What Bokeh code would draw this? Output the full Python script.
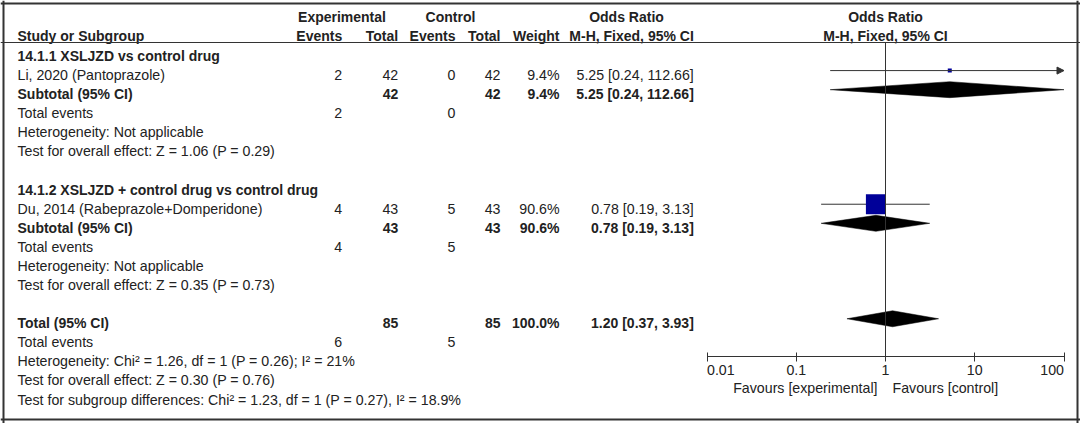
from bokeh.plotting import figure
from bokeh.models import Range1d, Span, LogAxis, FixedTicker, Arrow, NormalHead
from bokeh.core.properties import value
from bokeh.embed import file_html
from bokeh.resources import INLINE

# ---------------- data ----------------
subgroups = ["14.1.1 XSLJZD vs control drug", "14.1.2 XSLJZD + control drug vs control drug"]
studies = ["Li, 2020 (Pantoprazole)", "Du, 2014  (Rabeprazole+Domperidone)"]
exp_events = [2, 4]
exp_total = [42, 43]
ctrl_events = [0, 5]
ctrl_total = [42, 43]
weights = [9.4, 90.6]
odds_ratio = [5.25, 0.78]
ci_low = [0.24, 0.19]
ci_high = [112.66, 3.13]
sub_weights = [9.4, 90.6]
sub_or = [5.25, 0.78]
sub_low = [0.24, 0.19]
sub_high = [112.66, 3.13]
sub_heterogeneity = ["Heterogeneity: Not applicable", "Heterogeneity: Not applicable"]
sub_overall = ["Test for overall effect: Z = 1.06 (P = 0.29)",
               "Test for overall effect: Z = 0.35 (P = 0.73)"]
total_exp = 85
total_ctrl = 85
total_weight = 100.0
total_or = 1.20
total_low = 0.37
total_high = 3.93
total_exp_events = 6
total_ctrl_events = 5
total_heterogeneity = "Heterogeneity: Chi\u00b2 = 1.26, df = 1 (P = 0.26); I\u00b2 = 21%"
total_overall = "Test for overall effect: Z = 0.30 (P = 0.76)"
subgroup_diff = "Test for subgroup differences: Chi\u00b2 = 1.23, df = 1 (P = 0.27), I\u00b2 = 18.9%"
axis_ticks = [0.01, 0.1, 1, 10, 100]
axis_labels = ["0.01", "0.1", "1", "10", "100"]
favours = ["Favours [experimental]", "Favours [control]"]

# ---------------- layout constants ----------------
FONT = value("Liberation Sans")
FS = "14.2px"
FSB = "14px"
TC = "#222222"
LC = "#333333"
W, H = 1080, 423
ROW0 = 51.0     # page px of row-0 marks
ROWH = 19.09    # px per row
TSHIFT = 0.23   # text sits slightly below the mark centre (rows)
NULL_PX = 885.0  # page x of OR = 1
DEC = 89.25      # px per decade


def r(px):
    """page y (px) -> row coordinate"""
    return (px - ROW0) / ROWH


def xp(px):
    """page x (px) -> position on the log odds-ratio scale (used for table layout)"""
    return 10 ** ((px - NULL_PX) / DEC)


AX_MIN, AX_MAX = axis_ticks[0], axis_ticks[-1]

p = figure(width=W, height=H, x_axis_type="log",
           x_range=Range1d(xp(0), xp(W)), y_range=Range1d(start=r(H), end=r(0)),
           toolbar_location=None, output_backend="svg", min_border=0,
           x_axis_location=None, y_axis_location=None)
p.grid.visible = False
p.outline_line_color = None
p.background_fill_color = "white"
p.border_fill_color = "white"


def txt(xs_px, ys, texts, align="left", bold=False):
    p.text(x=[xp(v) for v in xs_px], y=[y + TSHIFT for y in ys], text=texts, text_font=FONT,
           text_font_size=FSB if bold else FS, text_color=TC, text_align=align,
           text_baseline="middle", text_font_style="bold" if bold else "normal")


# column anchors (page px)
X_LABEL = 17
X_EE, X_ET, X_CE, X_CT, X_W, X_OR = 341.7, 397.7, 455, 500, 559, 693.3

# ---------------- header ----------------
H1, H2 = r(16) - TSHIFT, r(35) - TSHIFT
txt([341.5, 450, 626, NULL_PX], [H1] * 4, ["Experimental", "Control", "Odds Ratio", "Odds Ratio"],
    align="center", bold=True)
txt([X_LABEL], [H2], ["Study or Subgroup"], bold=True)
txt([X_EE, X_ET, X_CE, X_CT, X_W, X_OR], [H2] * 6,
    ["Events", "Total", "Events", "Total", "Weight", "M-H, Fixed, 95% CI"], align="right", bold=True)
txt([NULL_PX], [H2], ["M-H, Fixed, 95% CI"], align="center", bold=True)


def ci_text(o, lo, hi):
    return f"{o:.2f} [{lo:.2f}, {hi:.2f}]"


HH = 8 / ROWH  # diamond half height (rows)

# ---------------- subgroups ----------------
for g in range(len(subgroups)):
    b = 7 * g
    txt([X_LABEL], [b], [subgroups[g]], bold=True)
    txt([X_LABEL], [b + 1], [studies[g]])
    txt([X_EE, X_ET, X_CE, X_CT, X_W, X_OR], [b + 1] * 6,
        [str(exp_events[g]), str(exp_total[g]), str(ctrl_events[g]), str(ctrl_total[g]),
         f"{weights[g]:.1f}%", ci_text(odds_ratio[g], ci_low[g], ci_high[g])], align="right")
    txt([X_LABEL], [b + 2], ["Subtotal (95% CI)"], bold=True)
    txt([X_ET, X_CT, X_W, X_OR], [b + 2] * 4,
        [str(exp_total[g]), str(ctrl_total[g]), f"{sub_weights[g]:.1f}%",
         ci_text(sub_or[g], sub_low[g], sub_high[g])], align="right", bold=True)
    txt([X_LABEL], [b + 3], ["Total events"])
    txt([X_EE, X_CE], [b + 3] * 2, [str(exp_events[g]), str(ctrl_events[g])], align="right")
    txt([X_LABEL, X_LABEL], [b + 4, b + 5], [sub_heterogeneity[g], sub_overall[g]])

    # study CI line (arrow when it runs off the scale) and weight square
    y = b + 1
    if ci_high[g] > AX_MAX:
        p.add_layout(Arrow(end=NormalHead(size=7, fill_color=LC, line_color=LC, line_width=1),
                           x_start=ci_low[g], y_start=y, x_end=AX_MAX, y_end=y,
                           line_color=LC, line_width=1))
    else:
        p.segment(x0=[ci_low[g]], y0=[y], x1=[ci_high[g]], y1=[y], line_color=LC, line_width=1)
    size = max(4, 0.22 * weights[g])
    p.scatter(x=[odds_ratio[g]], y=[y], marker="square", size=size,
              fill_color="#000099", line_color="#000099", line_width=0)
    # subtotal diamond
    yd = b + 2
    hi = min(sub_high[g], AX_MAX)
    p.patch(x=[sub_low[g], sub_or[g], hi, sub_or[g]], y=[yd, yd - HH, yd, yd + HH],
            fill_color="black", line_color="black", line_width=0.5)

# ---------------- overall ----------------
T = 14
txt([X_LABEL], [T], ["Total (95% CI)"], bold=True)
txt([X_ET, X_CT, X_W, X_OR], [T] * 4,
    [str(total_exp), str(total_ctrl), f"{total_weight:.1f}%", ci_text(total_or, total_low, total_high)],
    align="right", bold=True)
txt([X_LABEL], [T + 1], ["Total events"])
txt([X_EE, X_CE], [T + 1] * 2, [str(total_exp_events), str(total_ctrl_events)], align="right")
txt([X_LABEL] * 3, [T + 2, T + 3, T + 4], [total_heterogeneity, total_overall, subgroup_diff])
p.patch(x=[total_low, total_or, total_high, total_or], y=[T, T - HH, T, T + HH],
        fill_color="black", line_color="black", line_width=0.5)

# ---------------- axis & null line ----------------
AXIS_ROW = r(355.7)
HEADER_ROW = r(42)
p.segment(x0=[1], y0=[HEADER_ROW], x1=[1], y1=[AXIS_ROW], line_color=LC, line_width=1)

ax = LogAxis(fixed_location=AXIS_ROW, bounds=(AX_MIN, AX_MAX),
             ticker=FixedTicker(ticks=axis_ticks, minor_ticks=[]))
ax.major_label_overrides = {t: "" for t in axis_ticks}
ax.axis_line_color = LC
ax.major_tick_line_color = LC
ax.major_tick_in = 4
ax.major_tick_out = 5
ax.minor_tick_line_color = None
p.add_layout(ax, "below")

# tick labels: first flush-left, last flush-right, others centred on their ticks
tick_align = ["left"] + ["center"] * (len(axis_ticks) - 2) + ["right"]
p.text(x=axis_ticks, y=[r(369)] * len(axis_ticks), text=axis_labels, text_align=tick_align,
       text_baseline="middle", text_font=FONT, text_font_size=FS, text_color=TC)

p.text(x=[1, 1], y=[r(387)] * 2, text=favours, x_offset=[-8, 7],
       text_align=["right", "left"], text_baseline="middle", text_font=FONT,
       text_font_size=FS, text_color=TC)

# ---------------- frame lines ----------------
for loc, w in ((r(3), 2), (HEADER_ROW, 1), (r(419), 2)):
    p.add_layout(Span(location=loc, dimension="width", line_color=LC, line_width=w))
for loc in (xp(3), xp(1077)):
    p.add_layout(Span(location=loc, dimension="height", line_color=LC, line_width=2))

open("out.html", "w").write(file_html(p, INLINE))
